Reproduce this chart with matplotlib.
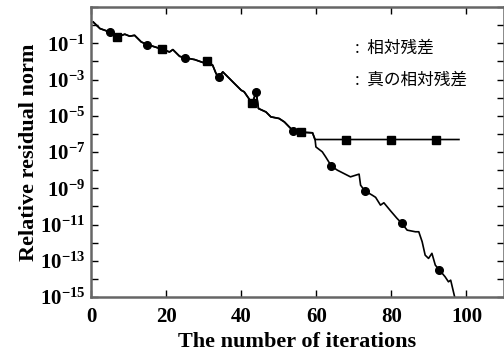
import numpy as np
import matplotlib
matplotlib.use("Agg")
import matplotlib.pyplot as plt

plt.rcParams['font.family'] = 'Liberation Serif'
plt.rcParams['font.weight'] = 'bold'
plt.rcParams['mathtext.fontset'] = 'custom'
plt.rcParams['mathtext.rm'] = 'Liberation Serif:bold'
plt.rcParams['mathtext.bf'] = 'Liberation Serif:bold'
plt.rcParams['mathtext.it'] = 'Liberation Serif:bold'

# relative residual norm (log10)
rel_iter = [0.6, 2.4, 5.0, 7.0, 9.0, 10.3, 11.6, 13.4, 15.0, 17.0, 19.0, 20.9, 21.8,
            23.6, 25.0, 27.6, 29.8, 30.9, 32.4, 33.3, 34.0, 35.1, 36.9, 38.2, 40.0,
            40.8, 42.9, 44.0, 44.6, 46.6, 47.9, 50.1, 51.5, 53.9, 55.9, 57.2, 59.0,
            59.7, 59.9, 61.6, 62.5, 64.0, 65.6, 69.1, 71.4, 71.8, 72.9, 74.9, 75.8,
            77.1, 78.0, 79.8, 81.5, 82.8, 84.2, 86.4, 87.3, 88.2, 89.0, 89.9, 90.8,
            91.7, 92.8, 94.3, 95.2, 95.8, 97.2]
rel_log = [0.17, -0.19, -0.38, -0.65, -0.5, -0.61, -0.56, -0.93, -1.07, -1.2, -1.33,
           -1.48, -1.35, -1.72, -1.8, -1.9, -2.06, -2.0, -2.21, -2.67, -2.86, -2.58,
           -2.95, -3.22, -3.59, -3.68, -4.31, -3.7, -4.6, -4.79, -5.06, -5.15, -5.34,
           -5.85, -5.92, -5.92, -5.94, -6.35, -6.72, -6.99, -7.27, -7.77, -8.0, -8.37,
           -8.22, -8.83, -9.14, -9.38, -9.5, -9.93, -9.8, -10.25, -10.66, -10.94,
           -11.31, -11.4, -11.4, -11.95, -12.69, -12.87, -12.59, -13.24, -13.51,
           -13.88, -14.16, -14.07, -15.3]

# true relative residual: same as above up to iteration 59, then stagnates
true_split = 59.0
true_tail_iter = [59.7, 98.0]
true_tail_log = [-6.31, -6.31]

circ_iter = [5.0, 15.0, 25.0, 34.0, 44.0, 53.9, 64.0, 72.9, 82.8, 92.8]
circ_log = [-0.38, -1.07, -1.8, -2.86, -3.7, -5.85, -7.77, -9.14, -10.94, -13.51]
sq_iter = [7.0, 19.0, 30.9, 42.9, 55.9, 67.9, 79.9, 91.9]
sq_log = [-0.65, -1.33, -2.0, -4.31, -5.92, -6.31, -6.31, -6.31]

legend_labels = ['相対残差', '真の相対残差']

rel_iter = np.array(rel_iter)
rel_val = 10.0 ** np.array(rel_log)
keep = rel_iter <= true_split
true_iter = np.concatenate([rel_iter[keep], true_tail_iter])
true_val = np.concatenate([rel_val[keep], 10.0 ** np.array(true_tail_log)])

fig = plt.figure(figsize=(5.04, 3.53), dpi=100)
ax = fig.add_axes([0.1806, 0.1586, 0.8194, 0.8215])

ax.plot(true_iter, true_val, color='black', lw=1.2)
ax.plot(rel_iter, rel_val, color='black', lw=1.2)
ax.plot(circ_iter, 10.0 ** np.array(circ_log), 'o', color='black', ms=5.5)
ax.plot(sq_iter, 10.0 ** np.array(sq_log), 's', color='black', ms=5.5)

ax.set_yscale('log')
ax.set_xlim(0, 110)
ax.set_ylim(1e-15, 1e1)

ax.set_xticks([0, 20, 40, 60, 80, 100])
exps = list(range(-15, 2))
ax.set_yticks([10.0 ** k for k in exps])
ax.set_yticklabels([r'$10^{%d}$' % k if (k % 2 != 0 and k < 0) else '' for k in exps])
ax.yaxis.set_minor_locator(matplotlib.ticker.NullLocator())

ax.tick_params(direction='in', length=5, width=1, top=True, right=True,
               labelsize=15, color='black')
ax.tick_params(axis='x', pad=7)
ax.tick_params(axis='y', pad=4)
for s in ax.spines.values():
    s.set_color('#666666')
    s.set_linewidth(1.8)

ax.set_xlabel('The number of iterations', fontsize=16, fontweight='bold', labelpad=4)
ax.set_ylabel('Relative residual norm', fontsize=16, fontweight='bold', labelpad=1)

ax.text(70.3, 10 ** -1.26, ':  ' + legend_labels[0], fontsize=12, va='center',
        family=['Noto Sans CJK JP', 'DejaVu Sans'], fontweight='normal')
ax.text(70.3, 10 ** -3.03, ':  ' + legend_labels[1], fontsize=12, va='center',
        family=['Noto Sans CJK JP', 'DejaVu Sans'], fontweight='normal')

fig.savefig('out.png', dpi=100)
